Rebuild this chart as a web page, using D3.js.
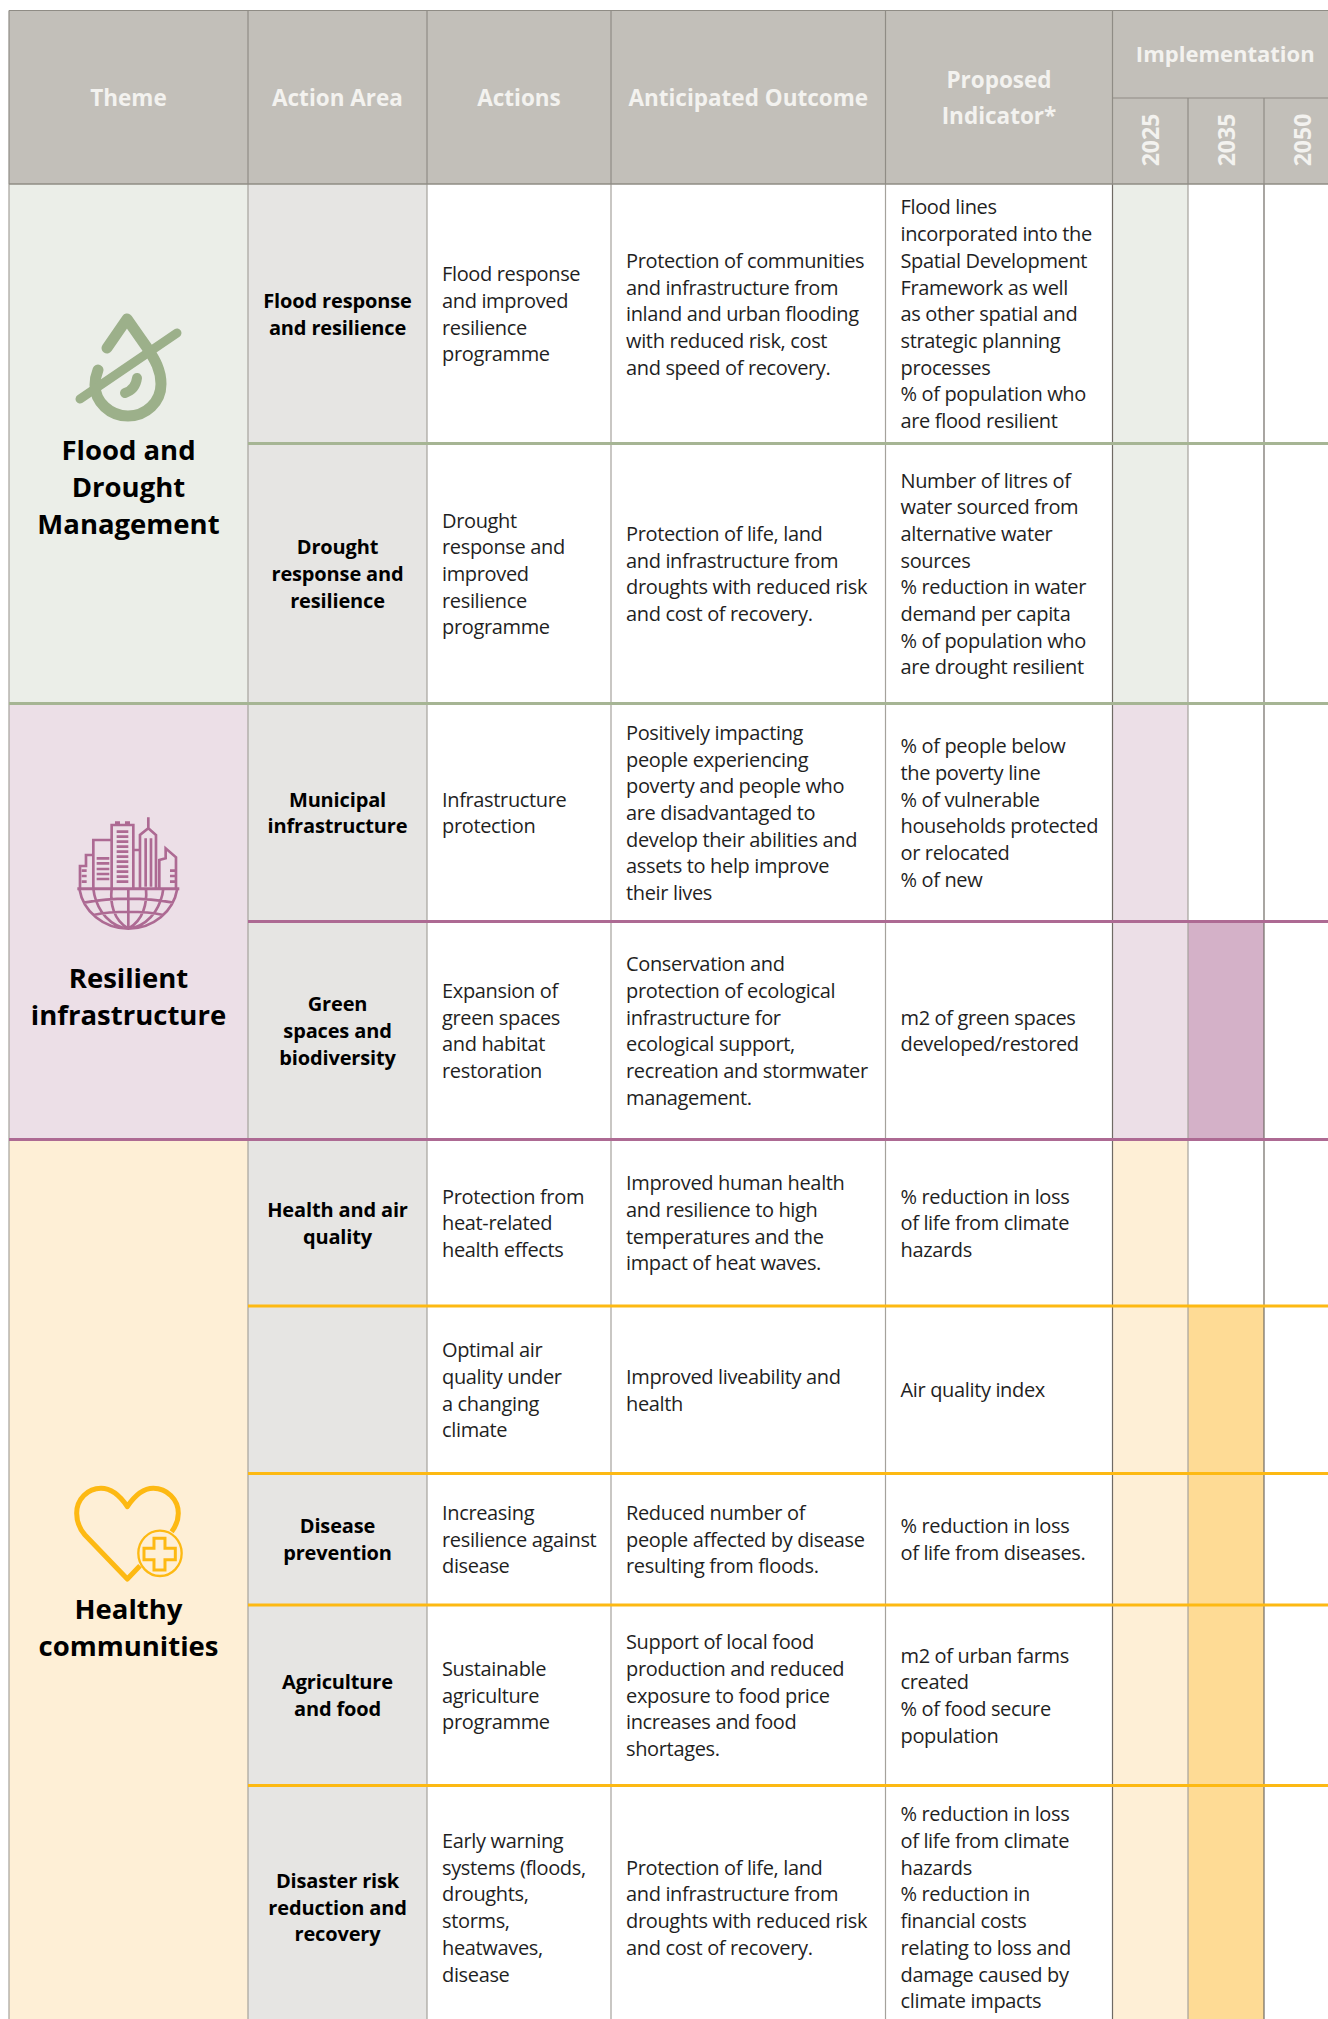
<!DOCTYPE html>
<html>
<head>
<meta charset="utf-8">
<script src="https://cdnjs.cloudflare.com/ajax/libs/d3/7.8.5/d3.min.js"></script>
<style>
html, body { margin: 0; padding: 0; background: #fff; }
svg { display: block; }
text { font-family: "Open Sans", "Noto Sans", sans-serif; }
</style>
</head>
<body>
<svg width="1328" height="2019"></svg>
<script>
// table content
const headers = ['Theme', 'Action Area', 'Actions', 'Anticipated Outcome']
const indicatorHeader = ['Proposed', 'Indicator*']
const years = ['2025', '2035', '2050']

const themeNames = [
    ['Flood and', 'Drought', 'Management'],
    ['Resilient', 'infrastructure'],
    ['Healthy', 'communities']
]
const rowTheme = [0, 0, 1, 1, 2, 2, 2, 2, 2]

const actionAreas = [
    ['Flood response', 'and resilience'],
    ['Drought', 'response and', 'resilience'],
    ['Municipal', 'infrastructure'],
    ['Green', 'spaces and', 'biodiversity'],
    ['Health and air', 'quality'],
    [],
    ['Disease', 'prevention'],
    ['Agriculture', 'and food'],
    ['Disaster risk', 'reduction and', 'recovery']
]
const actions = [
    ['Flood response', 'and improved', 'resilience', 'programme'],
    ['Drought', 'response and', 'improved', 'resilience', 'programme'],
    ['Infrastructure', 'protection'],
    ['Expansion of', 'green spaces', 'and habitat', 'restoration'],
    ['Protection from', 'heat-related', 'health effects'],
    ['Optimal air', 'quality under', 'a changing', 'climate'],
    ['Increasing', 'resilience against', 'disease'],
    ['Sustainable', 'agriculture', 'programme'],
    ['Early warning', 'systems (floods,', 'droughts,', 'storms,', 'heatwaves,', 'disease']
]
const outcomes = [
    ['Protection of communities', 'and infrastructure from', 'inland and urban flooding', 'with reduced risk, cost', 'and speed of recovery.'],
    ['Protection of life, land', 'and infrastructure from', 'droughts with reduced risk', 'and cost of recovery.'],
    ['Positively impacting', 'people experiencing', 'poverty and people who', 'are disadvantaged to', 'develop their abilities and', 'assets to help improve', 'their lives'],
    ['Conservation and', 'protection of ecological', 'infrastructure for', 'ecological support,', 'recreation and stormwater', 'management.'],
    ['Improved human health', 'and resilience to high', 'temperatures and the', 'impact of heat waves.'],
    ['Improved liveability and', 'health'],
    ['Reduced number of', 'people affected by disease', 'resulting from floods.'],
    ['Support of local food', 'production and reduced', 'exposure to food price', 'increases and food', 'shortages.'],
    ['Protection of life, land', 'and infrastructure from', 'droughts with reduced risk', 'and cost of recovery.']
]
const indicators = [
    ['Flood lines', 'incorporated into the', 'Spatial Development', 'Framework as well', 'as other spatial and', 'strategic planning', 'processes', '% of population who', 'are flood resilient'],
    ['Number of litres of', 'water sourced from', 'alternative water', 'sources', '% reduction in water', 'demand per capita', '% of population who', 'are drought resilient'],
    ['% of people below', 'the poverty line', '% of vulnerable', 'households protected', 'or relocated', '% of new'],
    ['m2 of green spaces', 'developed/restored'],
    ['% reduction in loss', 'of life from climate', 'hazards'],
    ['Air quality index'],
    ['% reduction in loss', 'of life from diseases.'],
    ['m2 of urban farms', 'created', '% of food secure', 'population'],
    ['% reduction in loss', 'of life from climate', 'hazards', '% reduction in', 'financial costs', 'relating to loss and', 'damage caused by', 'climate impacts']
]
// which rows are shaded in each implementation year
const filled2025 = [1, 1, 1, 1, 1, 1, 1, 1, 1]
const filled2035 = [0, 0, 0, 1, 0, 1, 1, 1, 1]
const filled2050 = [0, 0, 0, 0, 0, 0, 0, 0, 0]

// layout
const columnEdges = [9, 248, 427, 611, 885.5, 1112.5, 1188, 1264, 1340]
const rowEdges = [184, 443.5, 703.5, 921.5, 1139.5, 1306, 1473.5, 1605, 1785.5, 2029]
const tableTop = 10.5
const midHeader = 98
const themeEdges = [184, 703.5, 1139.5, 2029]
const themeLabelY = [[450, 487, 524], [978, 1015], [1609, 1646]]

const paleColor = ['#ebeee8', '#ecdfe7', '#feefd6']
const lineColor = ['#a6b594', '#ad6a93', '#fdb913']
const darkColor = ['#d5dccb', '#d4b1c8', '#fedb95']
const iconColor = ['#9cb08a', '#ad6a93', '#fdb913']
const headerFill = '#c2bfb9'
const headerText = '#f3f2ef'
const headerLine = '#8f8c85'
const areaFill = '#e6e5e3'
const bodyLine = '#a5a29c'
const darkLine = '#6f6a64'
const textColor = '#1f1f1f'

const rowIds = d3.range(rowEdges.length)
const rowScale = d3.scaleOrdinal().domain(rowIds).range(rowEdges)
const colScale = d3.scaleOrdinal().domain(d3.range(columnEdges.length)).range(columnEdges)

const svg = d3.select('svg')

const rows = actionAreas.map((d, i) => ({
    i,
    theme: rowTheme[i],
    y0: rowScale(i),
    y1: rowScale(i + 1),
    cm: (rowScale(i) + rowScale(i + 1)) / 2
}))

// header band
svg.append('rect')
    .attr('x', colScale(0))
    .attr('y', tableTop)
    .attr('width', colScale(8) - colScale(0))
    .attr('height', rowScale(0) - tableTop)
    .attr('fill', headerFill)

// theme cells
svg.selectAll('rect.theme').data(themeNames).enter().append('rect')
    .attr('class', 'theme')
    .attr('x', colScale(0))
    .attr('y', (d, i) => themeEdges[i])
    .attr('width', colScale(1) - colScale(0))
    .attr('height', (d, i) => themeEdges[i + 1] - themeEdges[i])
    .attr('fill', (d, i) => paleColor[i])

// action area cells
svg.append('rect')
    .attr('x', colScale(1))
    .attr('y', rowScale(0))
    .attr('width', colScale(2) - colScale(1))
    .attr('height', rowScale(9) - rowScale(0))
    .attr('fill', areaFill)

// implementation cells
const yearFills = [filled2025, filled2035, filled2050]
yearFills.forEach((flags, k) => {
    svg.selectAll('rect.y' + k).data(rows).enter().append('rect')
        .attr('class', 'y' + k)
        .attr('x', colScale(5 + k))
        .attr('y', d => d.y0)
        .attr('width', colScale(6 + k) - colScale(5 + k))
        .attr('height', d => d.y1 - d.y0)
        .attr('fill', d => !flags[d.i] ? '#fff' : (k === 0 ? paleColor[d.theme] : darkColor[d.theme]))
})

// vertical rules
const vLine = (x, y0, y1, color, w) => svg.append('line')
    .attr('x1', x).attr('x2', x).attr('y1', y0).attr('y2', y1)
    .attr('stroke', color).attr('stroke-width', w)

d3.range(0, 8).forEach(c => {
    const upper = c >= 6 ? midHeader : tableTop
    vLine(colScale(c), upper, rowScale(0), headerLine, 1.2)
    const color = (c === 5 || c === 7) ? darkLine : bodyLine
    vLine(colScale(c), rowScale(0), 2019, color, 1.2)
})

// header rules
const hLine = (x0, x1, y, color, w) => svg.append('line')
    .attr('x1', x0).attr('x2', x1).attr('y1', y).attr('y2', y)
    .attr('stroke', color).attr('stroke-width', w)

hLine(colScale(0), 1328, tableTop, headerLine, 1.2)
hLine(colScale(0), 1328, rowScale(0), headerLine, 1.4)
hLine(colScale(5), 1328, midHeader, headerLine, 1.2)

// row rules in the colour of the theme above them
rows.slice(0, 8).forEach(d => {
    const endsTheme = rowTheme[d.i + 1] !== d.theme
    hLine(endsTheme ? colScale(0) : colScale(1), 1328, d.y1, lineColor[d.theme], 2.8)
})

// header text
const headerLabel = (t, x, y, size) => svg.append('text')
    .attr('x', x).attr('y', y)
    .attr('text-anchor', 'middle')
    .attr('dy', '.35em')
    .attr('font-size', size)
    .attr('font-weight', 700)
    .attr('fill', headerText)
    .text(t)

headers.forEach((t, c) => headerLabel(t, (colScale(c) + colScale(c + 1)) / 2, 98, 22.5))
indicatorHeader.forEach((t, i) => headerLabel(t, (colScale(4) + colScale(5)) / 2, 80 + i * 36, 22.5))
headerLabel('Implementation', (colScale(5) + colScale(8)) / 2 - 1, 54, 22)

years.forEach((t, k) => {
    const cx = (colScale(5 + k) + colScale(6 + k)) / 2 + 1
    svg.append('text')
        .attr('transform', `translate(${cx},140) rotate(-90)`)
        .attr('text-anchor', 'middle')
        .attr('dy', '.35em')
        .attr('font-size', 23)
        .attr('font-weight', 700)
        .attr('fill', headerText)
        .text(t)
})

// cell text
const cellText = (lines, d, x, anchor, weight) => {
    const lh = 26.7
    const start = d.cm + 0.5 - (lines.length - 1) * lh / 2
    svg.append('g').selectAll('text').data(lines).enter().append('text')
        .attr('x', x)
        .attr('y', (l, i) => start + i * lh)
        .attr('dy', '.35em')
        .attr('text-anchor', anchor)
        .attr('font-size', 20)
        .attr('font-weight', weight)
        .attr('letter-spacing', weight === 700 ? -0.15 : -0.35)
        .attr('fill', weight === 700 ? '#000' : textColor)
        .text(l => l)
}

rows.forEach(d => {
    cellText(actionAreas[d.i], d, (colScale(1) + colScale(2)) / 2, 'middle', 700)
    cellText(actions[d.i], d, colScale(2) + 15, 'start', 400)
    cellText(outcomes[d.i], d, colScale(3) + 15, 'start', 400)
    cellText(indicators[d.i], d, colScale(4) + 15, 'start', 400)
})

// theme labels
themeNames.forEach((lines, i) => {
    svg.append('g').selectAll('text').data(lines).enter().append('text')
        .attr('x', (colScale(0) + colScale(1)) / 2)
        .attr('y', (l, j) => themeLabelY[i][j])
        .attr('dy', '.35em')
        .attr('text-anchor', 'middle')
        .attr('font-size', 27.5)
        .attr('font-weight', 700)
        .attr('fill', '#000')
        .text(l => l)
})

// icons
const drop = svg.append('g')
    .attr('fill', 'none')
    .attr('stroke', iconColor[0])
    .attr('stroke-linecap', 'round')
    .attr('stroke-linejoin', 'round')
drop.append('path').attr('stroke-width', 11)
    .attr('d', 'M107,348 L127,319 L148,349 C155,360 161,370 161,384 C161,402 146,416 128,416 C110,416 95,402 95,385 C95,380 96,375 98,370')
drop.append('path').attr('stroke-width', 9)
    .attr('d', 'M80,399 L177,333')
drop.append('path').attr('stroke-width', 10)
    .attr('d', 'M137,378 C136,386 131,391 125,393')

const city = svg.append('g')
    .attr('transform', 'translate(0,780) scale(.3333)')
    .attr('fill', 'none')
    .attr('stroke', iconColor[1])
    .attr('stroke-width', 8)
city.append('path').attr('stroke-width', 9).attr('d', 'M232,326 H538')
city.append('path').attr('d', 'M240,325 V258 H258 V225 H280 M280,325 V180 H335 M335,325 V135 H400 V325 M400,210 H420 M420,325 V165 L445,145 L468,165 V325 M445,145 V112 M437,175 V320 M453,175 V320 M478,325 V240 L497,235 V205 L528,232 V325')
city.append('path').attr('stroke-width', 14).attr('d', 'M345,131 H360 M375,131 H390')
city.append('path').attr('d', 'M350,155 H385 M350,170 H385 M350,185 H385 M350,200 H385 M350,215 H385 M350,230 H385 M350,245 H385 M350,260 H385 M350,275 H385 M350,290 H385 M350,305 H385 M290,235 H328 M290,250 H328 M290,267 H328 M290,282 H328 M290,297 H328 M245,272 H260 M245,288 H260 M245,305 H260 M510,272 H525 M510,288 H525 M510,305 H525')
city.append('path').attr('d', 'M238,326 C250,395 310,446 385,446 C460,446 520,395 532,326 M385,326 V446 M335,326 C330,370 340,420 385,446 M438,326 C442,370 430,420 385,446 M280,326 C285,370 310,425 370,444 M490,326 C485,370 460,425 400,444 M252,368 C340,352 430,352 520,368 M280,405 C340,392 430,392 490,405')

const heart = svg.append('g')
    .attr('transform', 'translate(30,1450) scale(.3333)')
    .attr('fill', 'none')
    .attr('stroke', iconColor[2])
heart.append('path').attr('stroke-width', 15).attr('stroke-linejoin', 'round')
    .attr('d', 'M425,245 C438,228 445,210 445,190 C445,148 410,115 370,115 C335,115 312,140 292,170 C272,140 248,115 213,115 C173,115 140,148 140,190 C140,215 150,238 165,255 L292,387 L330,347')
heart.append('ellipse').attr('cx', 390).attr('cy', 310).attr('rx', 65).attr('ry', 68).attr('stroke-width', 7)
heart.append('path').attr('stroke-width', 9)
    .attr('d', 'M372,265 H405 V295 H436 V329 H405 V360 H372 V329 H342 V295 H372 Z')
</script>
</body>
</html>
